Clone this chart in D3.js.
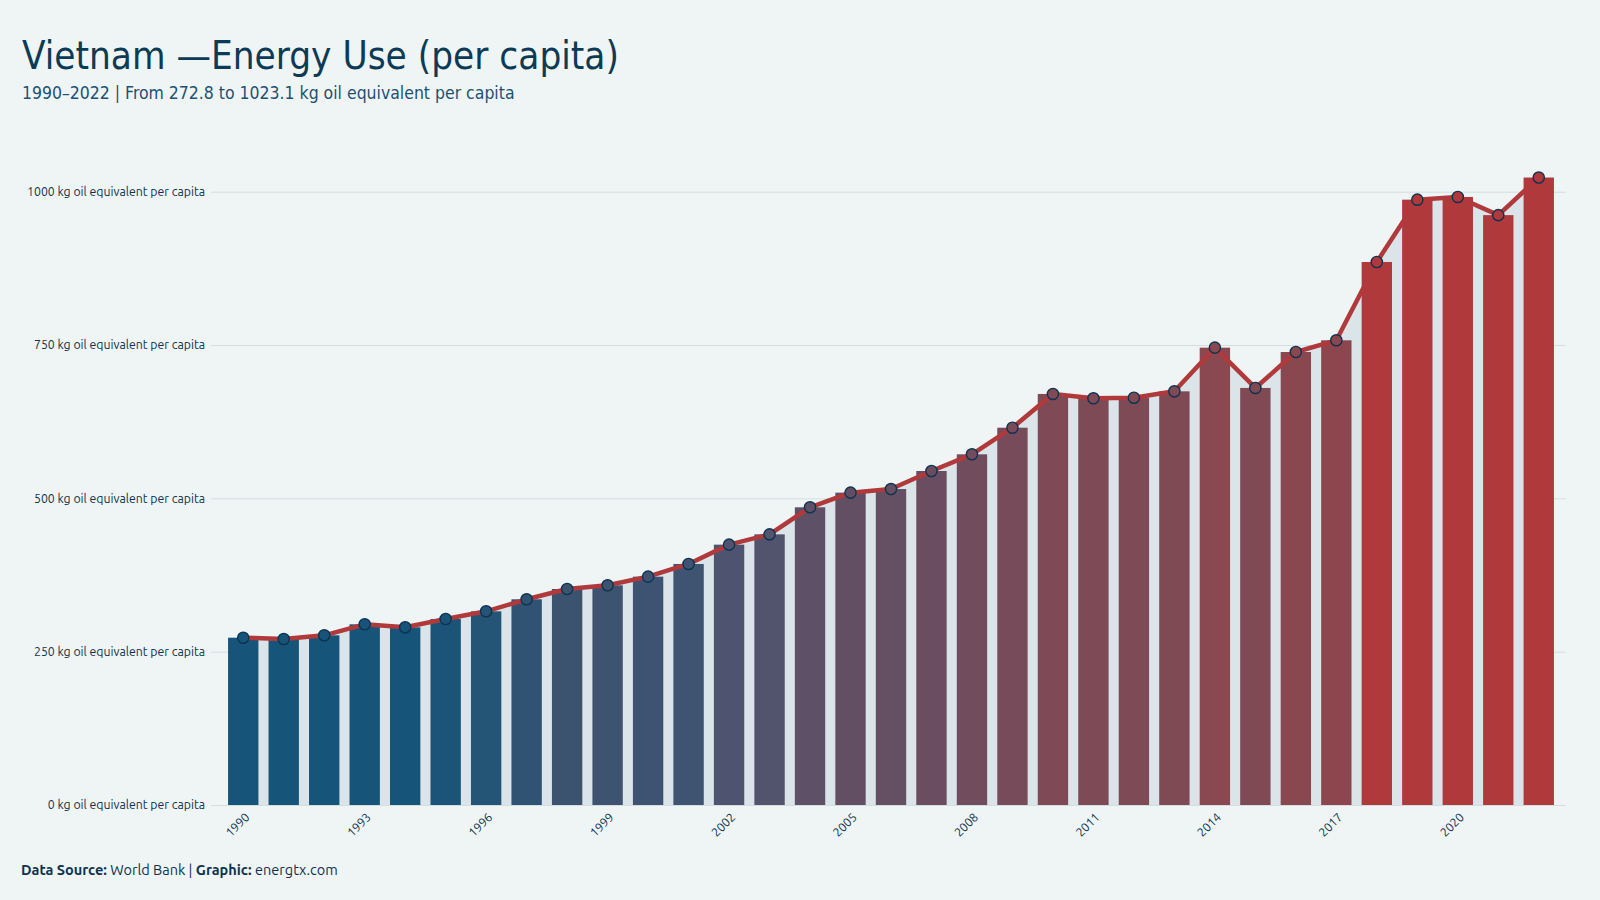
<!DOCTYPE html>
<meta charset="utf-8">
<head>
<style>
body { margin: 0; background: #eff5f5; }
svg { display: block; }
.grid line { stroke: #d3dee1; stroke-width: 1; }
.ylab, .xlab { font-family: Ubuntu, "Noto Sans", "DejaVu Sans", sans-serif; fill: #0d3350; }
.title { font-family: "Liberation Sans Narrow", "DejaVu Sans Condensed", sans-serif; fill: #0d3b55; }
.subtitle { font-family: "Liberation Sans Narrow", "DejaVu Sans Condensed", sans-serif; fill: #1d5174; }
.footer { font-family: Ubuntu, "Noto Sans", "DejaVu Sans", sans-serif; fill: #0d3350; }
</style>
</head>
<body>
<svg width="1600" height="900"></svg>

<script src="https://d3js.org/d3.v7.min.js"></script>
<script>
// data
const years = [1990, 1991, 1992, 1993, 1994, 1995, 1996, 1997, 1998, 1999,
    2000, 2001, 2002, 2003, 2004, 2005, 2006, 2007, 2008, 2009,
    2010, 2011, 2012, 2013, 2014, 2015, 2016, 2017, 2018, 2019,
    2020, 2021, 2022];
const values = [272.8, 270.7, 276.7, 294.6, 289.7, 303.3, 315.8, 335.4, 352.2, 358.2,
    372.3, 393.0, 424.5, 441.3, 485.4, 509.3, 515.2, 544.6, 571.8, 615.2,
    670.2, 663.1, 664.1, 674.5, 745.7, 680.0, 738.6, 757.7, 885.4, 987.0,
    991.4, 961.8, 1023.1];
const yTicks = [0, 250, 500, 750, 1000];
const xTickYears = [1990, 1993, 1996, 1999, 2002, 2005, 2008, 2011, 2014, 2017, 2020];
const unit = 'kg oil equivalent per capita';

let data = years.map((yr, i) => ({ year: yr, value: values[i] }));

let svg = d3.select('svg');
svg.append('rect').attr('width', 1600).attr('height', 900).attr('fill', '#eff5f5');

let plot = { left: 211, right: 1566 };

let x = d3.scaleBand()
    .domain(years)
    .range([223, 1559])
    .paddingInner(0.25)
    .paddingOuter(0.125);

let y = d3.scaleLinear().domain([0, 1000]).range([805, 191.7]);

// colour ramp by value, blue -> red
let color = d3.scaleLinear()
    .domain([272.8, 295, 353, 395, 425, 485, 572, 670, 745, 870])
    .range(['#16547a', '#16547a', '#3d5370', '#3f5472', '#4e5470', '#5e5066',
        '#704c5d', '#7f4a55', '#8a4850', '#b0393b'])
    .clamp(true);

let cx = (d) => x(d.year) + x.bandwidth() / 2;

function fitText(sel, width) {
    let w = sel.node().getComputedTextLength();
    let fs = parseFloat(sel.attr('font-size'));
    sel.attr('font-size', fs * width / w);
    return fs * width / w;
}

// size axis labels so the widest one matches the reference width
let probe = svg.append('text').attr('class', 'ylab').attr('font-size', 11)
    .text(`1000 ${unit}`);
let labelSize = fitText(probe, 178);
probe.remove();

// grid + y labels
let grid = svg.append('g').attr('class', 'grid');
grid.selectAll('line')
    .data(yTicks)
    .enter().append('line')
        .attr('x1', plot.left)
        .attr('x2', plot.right)
        .attr('y1', (d) => y(d) + 0.5)
        .attr('y2', (d) => y(d) + 0.5);

svg.append('g').selectAll('text')
    .data(yTicks)
    .enter().append('text')
        .attr('class', 'ylab')
        .attr('font-size', labelSize)
        .attr('x', 205)
        .attr('y', (d) => y(d))
        .attr('dy', '0.35em')
        .attr('text-anchor', 'end')
        .text((d) => `${d} ${unit}`);

// area under the line
let area = d3.area()
    .x(cx)
    .y0(y(0))
    .y1((d) => y(d.value));

svg.append('path')
    .datum(data)
    .attr('fill', '#dae4e9')
    .attr('d', area);

// bars
svg.append('g').selectAll('rect')
    .data(data)
    .enter().append('rect')
        .attr('x', (d) => x(d.year))
        .attr('y', (d) => y(d.value))
        .attr('width', x.bandwidth())
        .attr('height', (d) => y(0) - y(d.value))
        .attr('fill', (d) => color(d.value));

// line
let line = d3.line()
    .x(cx)
    .y((d) => y(d.value));

svg.append('path')
    .datum(data)
    .attr('fill', 'none')
    .attr('stroke', '#b03a3b')
    .attr('stroke-width', 4.5)
    .attr('stroke-linejoin', 'round')
    .attr('d', line);

// points
svg.append('g').selectAll('circle')
    .data(data)
    .enter().append('circle')
        .attr('cx', cx)
        .attr('cy', (d) => y(d.value))
        .attr('r', 5.6)
        .attr('fill', (d) => color(d.value))
        .attr('stroke', '#0d3350')
        .attr('stroke-width', 1.4);

// x labels
svg.append('g').selectAll('text')
    .data(xTickYears)
    .enter().append('text')
        .attr('class', 'xlab')
        .attr('font-size', labelSize)
        .attr('text-anchor', 'end')
        .attr('transform', (d) => `translate(${x(d) + x.bandwidth() / 2 + 4}, ${y(0) + 10}) rotate(-45)`)
        .attr('dy', '0.35em')
        .text((d) => d);

// titles
let title = svg.append('text')
    .attr('class', 'title')
    .attr('x', 22)
    .attr('y', 69)
    .attr('font-size', 48)
    .text('Vietnam \u2014Energy Use (per capita)');
fitText(title, 597);

let sub = svg.append('text')
    .attr('class', 'subtitle')
    .attr('x', 22)
    .attr('y', 99)
    .attr('font-size', 20)
    .text('1990\u20132022 | From 272.8 to 1023.1  kg oil equivalent per capita');
fitText(sub, 493);

let foot = svg.append('text')
    .attr('class', 'footer')
    .attr('x', 21)
    .attr('y', 875)
    .attr('font-size', 13.5);
foot.append('tspan').attr('font-weight', 'bold').text('Data Source: ');
foot.append('tspan').text('World Bank | ');
foot.append('tspan').attr('font-weight', 'bold').text('Graphic: ');
foot.append('tspan').text('energtx.com');
fitText(foot, 317);
</script>
</body>
</html>
